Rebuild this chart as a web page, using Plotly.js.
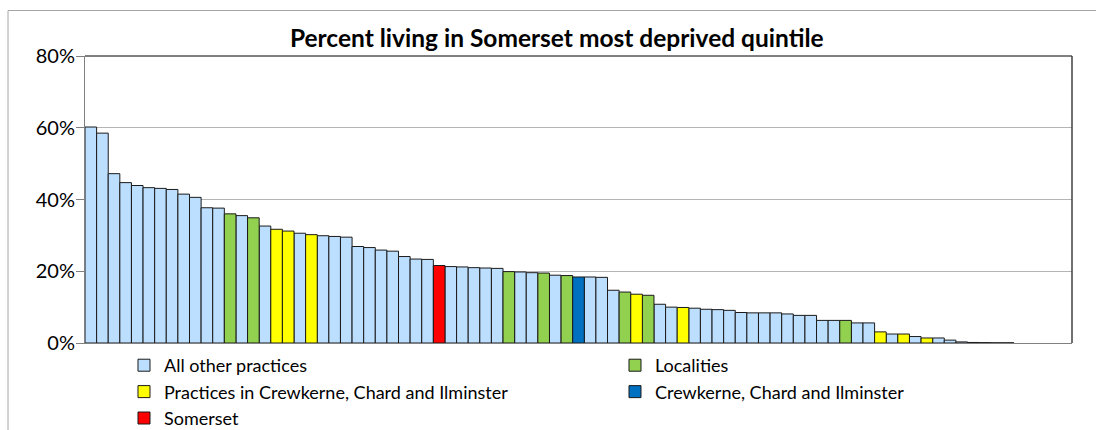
<!DOCTYPE html>
<html>
<head>
<meta charset="utf-8">
<script src="https://cdn.plot.ly/plotly-3.0.1.min.js"></script>
<style>
html,body{margin:0;padding:0;background:#fff;}
#chart{width:1096px;height:430px;}
</style>
</head>
<body>
<div id="chart"></div>
<script>
// Percent of practice population living in Somerset's most deprived quintile (sorted)
const pctDeprived = [
  60.2, 58.5, 47.2, 44.7, 43.9, 43.3, 43.1, 42.8, 41.5, 40.6,
  37.7, 37.6, 36.0, 35.5, 34.9, 32.6, 31.7, 31.2, 30.6, 30.2,
  29.9, 29.7, 29.5, 26.9, 26.6, 25.9, 25.6, 24.1, 23.4, 23.3,
  21.6, 21.3, 21.2, 21.0, 20.9, 20.8, 19.9, 19.8, 19.6, 19.5,
  18.9, 18.8, 18.4, 18.4, 18.3, 14.7, 14.2, 13.6, 13.3, 10.8,
  10.0, 9.9, 9.7, 9.4, 9.3, 9.1, 8.5, 8.4, 8.4, 8.4,
  8.1, 7.7, 7.7, 6.3, 6.3, 6.3, 5.6, 5.6, 3.1, 2.5,
  2.5, 1.8, 1.4, 1.4, 0.8, 0.3, 0.15, 0.1, 0.05, 0.05
];
// group of each bar: A = all other practices, L = localities,
// P = practices in Crewkerne, Chard and Ilminster, C = Crewkerne, Chard and Ilminster, S = Somerset
const barGroup = [
  'A','A','A','A','A','A','A','A','A','A',
  'A','A','L','A','L','A','P','P','A','P',
  'A','A','A','A','A','A','A','A','A','A',
  'S','A','A','A','A','A','L','A','A','L',
  'A','L','C','A','A','A','L','P','L','A',
  'A','P','A','A','A','A','A','A','A','A',
  'A','A','A','A','A','L','A','A','P','A',
  'P','A','P','A','A','A','A','A','A','A'
];
const groupCodes = ['A','L','P','C','S'];
const groupNames = [
  'All other practices',
  'Localities',
  'Practices in Crewkerne, Chard and Ilminster',
  'Crewkerne, Chard and Ilminster',
  'Somerset'
];
const groupColors = ['#BDDFFF','#92D050','#FFFF00','#0070C0','#FF0000'];
const yTicks = [0, 20, 40, 60, 80];
const chartTitle = 'Percent living in Somerset most deprived quintile';

const FONT = 'Lato, "Open Sans", sans-serif';
const rank = pctDeprived.map((v, i) => i + 1);
// legend: first column entries are wide, second column entries narrow
const legendWidths = [446, 260, 446, 260, 446];

const traces = groupCodes.map((code, gi) => {
  const xs = [], ys = [];
  pctDeprived.forEach((v, i) => {
    if (barGroup[i] === code) { xs.push(rank[i]); ys.push(v); }
  });
  return {
    type: 'bar',
    name: groupNames[gi],
    x: xs,
    y: ys,
    width: 1,
    legendwidth: legendWidths[gi],
    marker: {color: groupColors[gi], line: {color: '#1a1a1a', width: 1}},
    hoverinfo: 'x+y'
  };
});

const layout = {
  width: 1096,
  height: 430,
  margin: {l: 85, r: 24, t: 56, b: 87, pad: 0},
  paper_bgcolor: '#ffffff',
  plot_bgcolor: '#ffffff',
  barmode: 'overlay',
  bargap: 0,
  showlegend: true,
  title: {
    text: '<b>' + chartTitle + '</b>',
    font: {family: FONT, size: 24.5, color: '#000'},
    x: 0.508, xref: 'container', xanchor: 'center',
    y: 0.911, yref: 'container', yanchor: 'middle'
  },
  xaxis: {
    range: [0.5, 85.5],
    showticklabels: false,
    ticks: '',
    showgrid: false,
    zeroline: false,
    showline: true,
    linecolor: '#808080',
    linewidth: 1,
    fixedrange: true
  },
  yaxis: {
    range: [0, 80],
    tickvals: yTicks,
    ticktext: yTicks.map(t => t + '%'),
    ticks: 'outside',
    ticklen: 8,
    tickcolor: '#808080',
    ticklabelstandoff: -3,
    tickfont: {family: FONT, size: 20, color: '#000'},
    showgrid: true,
    gridcolor: '#B4B4B4',
    gridwidth: 1,
    zeroline: false,
    showline: true,
    linecolor: '#808080',
    linewidth: 1,
    fixedrange: true
  },
  legend: {
    orientation: 'h',
    xref: 'paper',
    x: 0.0395, xanchor: 'left',
    yref: 'container',
    y: 0.193, yanchor: 'top',
    entrywidth: 446,
    entrywidthmode: 'pixels',
    font: {family: FONT, size: 18, color: '#000'},
    bgcolor: 'rgba(0,0,0,0)',
    traceorder: 'normal'
  },
  shapes: [
    // plot-area top and right border
    {type: 'line', xref: 'paper', yref: 'paper', x0: 0, x1: 1, y0: 1, y1: 1,
     line: {color: '#000000', width: 1}},
    {type: 'line', xref: 'paper', yref: 'paper', x0: 1, x1: 1, y0: 0, y1: 1,
     line: {color: '#404040', width: 1.5}},
    // outer chart frame (extends past the right and bottom edges)
    {type: 'rect', xref: 'paper', yref: 'paper', x0: -0.078, x1: 1.3, y0: -1, y1: 1.1585,
     line: {color: '#A6A6A6', width: 1}, layer: 'below'}
  ]
};

Plotly.newPlot('chart', traces, layout, {displayModeBar: false, staticPlot: true});
</script>
</body>
</html>
